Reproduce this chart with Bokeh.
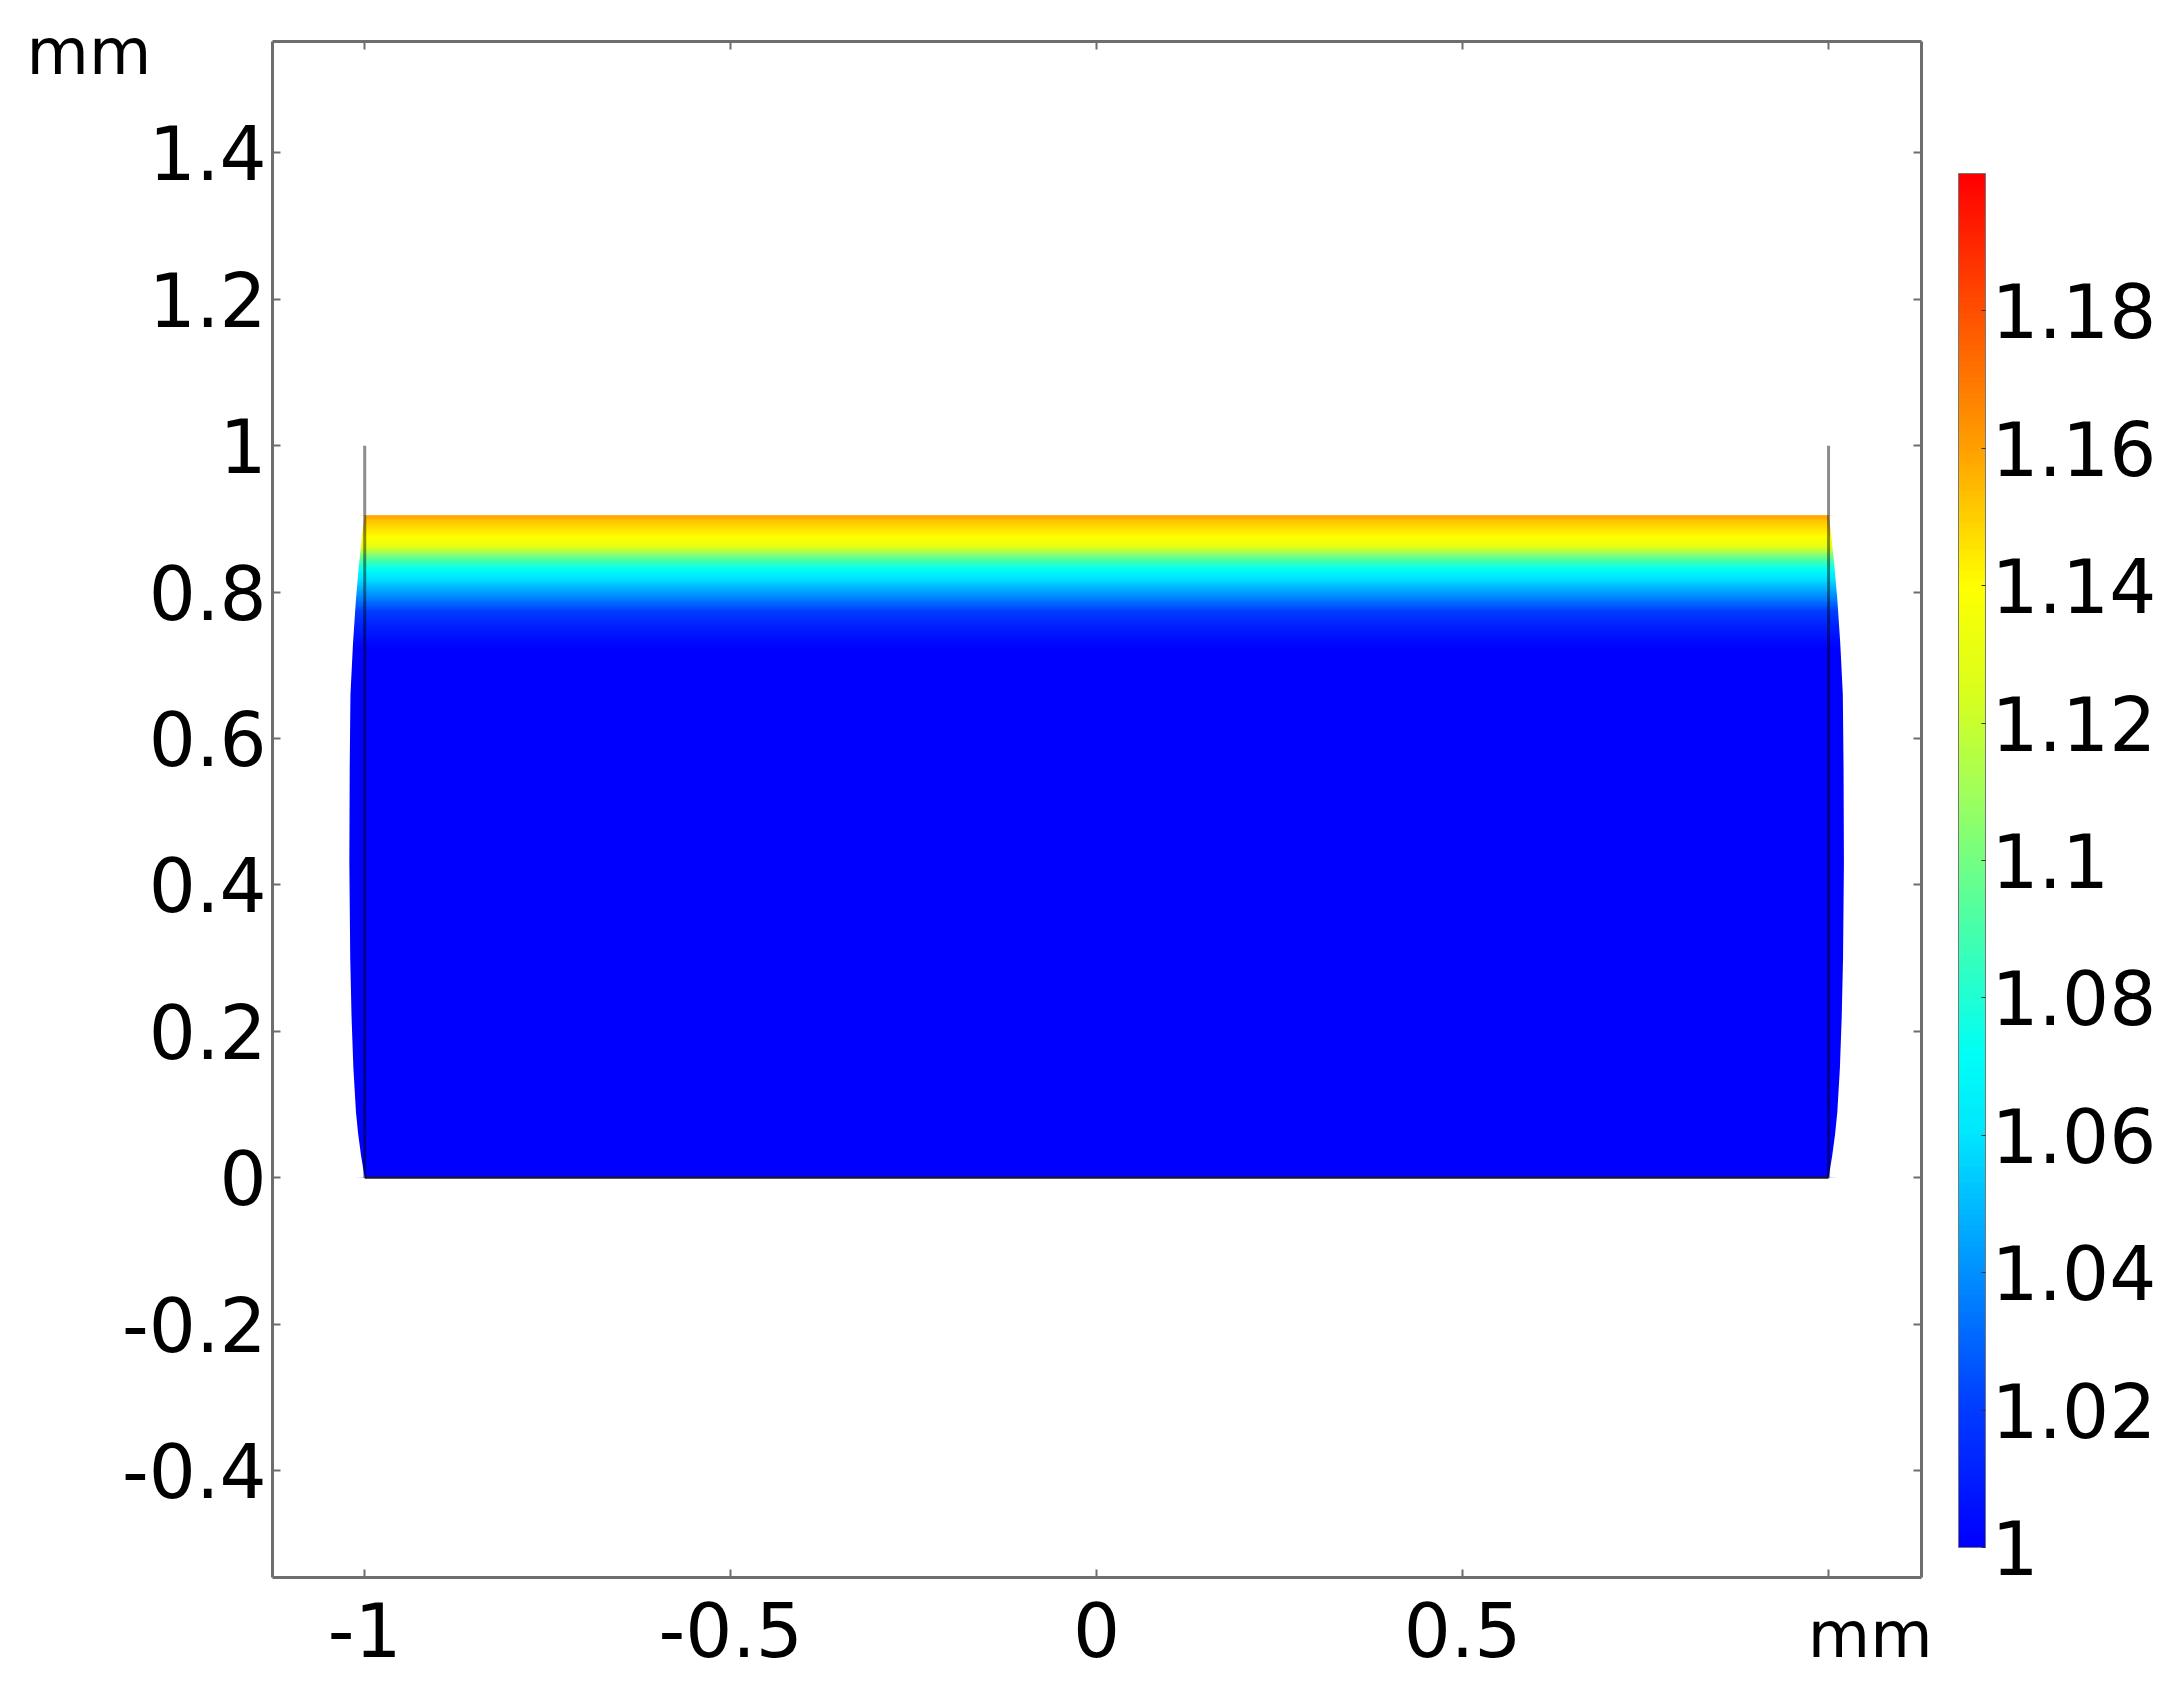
import numpy as np
from bokeh.plotting import figure
from bokeh.models import (LinearAxis, FixedTicker, LinearColorMapper, ColorBar,
                          Label, Range1d)
from bokeh.embed import file_html
from bokeh.resources import INLINE

# ---------------- data ----------------
x_ticks = [-1.0, -0.5, 0.0, 0.5, 1.0]
x_tick_labels = ["-1", "-0.5", "0", "0.5", ""]
y_ticks = [-0.4, -0.2, 0.0, 0.2, 0.4, 0.6, 0.8, 1.0, 1.2, 1.4]
y_tick_labels = ["-0.4", "-0.2", "0", "0.2", "0.4", "0.6", "0.8", "1", "1.2", "1.4"]
cbar_ticks = [1.0, 1.02, 1.04, 1.06, 1.08, 1.1, 1.12, 1.14, 1.16, 1.18]
cbar_labels = ["1", "1.02", "1.04", "1.06", "1.08", "1.1", "1.12", "1.14", "1.16", "1.18"]
c_low, c_high = 1.0, 1.2
x_box = (-1.126, 1.127)     # visible axis box (mm)
y_box = (-0.546, 1.552)

# concentration profile (height in mm -> value), read along the domain
conc_y = [0.0, 0.72, 0.75, 0.772, 0.795, 0.824, 0.836, 0.848, 0.862, 0.874, 0.893, 0.905]
conc_val = [1.0, 1.0, 1.01, 1.02, 1.04, 1.065, 1.08, 1.10, 1.13, 1.14, 1.15, 1.16]

# deformed side boundary: outward bulge of each side wall (mm) vs height
edge_y = [0.0, 0.03, 0.06, 0.09, 0.15, 0.22, 0.30, 0.43, 0.56, 0.66, 0.73, 0.79, 0.83, 0.87, 0.905]
edge_dx = [0.0, 0.005, 0.009, 0.012, 0.0155, 0.018, 0.0198, 0.021, 0.0205, 0.0195, 0.016,
           0.012, 0.0085, 0.0045, 0.0]

domain_x = [-1.0, 1.0]
domain_top = 0.905
wall_x = [-1.0, 1.0]
wall_top = 1.0

# ---------------- colormap (COMSOL-like rainbow) ----------------
stops = [(0.0, (0, 0, 255)), (0.1, (0, 60, 255)), (0.2, (0, 145, 255)),
         (0.3, (0, 230, 255)), (0.36, (0, 255, 245)), (0.45, (70, 255, 170)),
         (0.55, (160, 255, 90)), (0.62, (215, 255, 30)), (0.7, (255, 255, 0)),
         (0.8, (255, 160, 0)), (0.9, (255, 80, 0)), (1.0, (255, 0, 0))]
sf = [s[0] for s in stops]
palette = []
for t in np.linspace(0, 1, 256):
    rgb = [int(round(np.interp(t, sf, [s[1][k] for s in stops]))) for k in range(3)]
    palette.append("#%02x%02x%02x" % tuple(rgb))
mapper = LinearColorMapper(palette=palette, low=c_low, high=c_high)

# ---------------- canvas geometry ----------------
W, H = 2168, 1680
BOX_L, BOX_T, BOX_W, BOX_H = 272, 41, 1649, 1536
ppx = BOX_W / (x_box[1] - x_box[0])
ppy = BOX_H / (y_box[1] - y_box[0])
x_start = x_box[0] - BOX_L / ppx
y_end = y_box[1] + BOX_T / ppy

FONT = "DejaVu Sans"
p = figure(frame_width=W, frame_height=H,
           x_range=Range1d(x_start, x_start + W / ppx),
           y_range=Range1d(y_end - H / ppy, y_end),
           output_backend="svg", toolbar_location=None,
           x_axis_location=None, y_axis_location=None,
           min_border=0, min_border_left=0, min_border_right=0,
           min_border_top=0, min_border_bottom=0,
           outline_line_color=None, background_fill_color="white",
           border_fill_color="white")
p.xgrid.visible = False
p.ygrid.visible = False

AX = "#6e6e6e"


def make_axis(ticks, labels, show, loc, bounds):
    ax = LinearAxis(ticker=FixedTicker(ticks=ticks),
                    major_label_overrides=dict(zip(ticks, labels if show else [""] * len(ticks))),
                    fixed_location=loc, bounds=bounds,
                    axis_line_color=AX, axis_line_width=3,
                    major_tick_line_color=AX, major_tick_line_width=2,
                    major_tick_in=8, major_tick_out=0,
                    minor_tick_line_color=None,
                    major_label_text_font=FONT,
                    major_label_text_font_size="74px",
                    major_label_text_color="black" if show else None)
    return ax


xb = make_axis(x_ticks, x_tick_labels, True, y_box[0], x_box)
xb.major_label_standoff = 24
yl = make_axis(y_ticks, y_tick_labels, True, x_box[0], y_box)
yl.major_label_standoff = 6
xt = make_axis(x_ticks, x_tick_labels, False, y_box[1], x_box)
yr = make_axis(y_ticks, y_tick_labels, False, x_box[1], y_box)
p.add_layout(xb, "below")
p.add_layout(yl, "left")
p.add_layout(xt, "above")
p.add_layout(yr, "right")

# concentration field (colour depends on height), drawn as an image
ny = 800
yc = (np.arange(ny) + 0.5) / ny * domain_top
col = np.interp(yc, conc_y, conc_val)
img = np.repeat(col[:, None], 2, axis=1)
x_img0 = -1.03
p.image(image=[img], x=x_img0, y=0, dw=-2 * x_img0, dh=domain_top, color_mapper=mapper)

# mask outside the bulging side boundaries
ey = list(edge_y)
lx = [x_img0 - 0.01] + [domain_x[0] - d for d in edge_dx] + [x_img0 - 0.01]
rx = [-x_img0 + 0.01] + [domain_x[1] + d for d in edge_dx] + [-x_img0 + 0.01]
py = [ey[0] - 0.001] + ey + [ey[-1] + 0.001]
p.patches(xs=[lx, rx], ys=[py, py], fill_color="white", line_color=None)

# bottom boundary
p.line(x=domain_x, y=[0, 0], line_color="#1a1a1a", line_width=2)

# side walls
p.segment(x0=wall_x, y0=[0, 0], x1=wall_x, y1=[wall_top, wall_top],
          line_color="black", line_alpha=0.45, line_width=3)

# unit labels
p.add_layout(Label(x=-1.462, y=1.538, text="mm", text_font=FONT, text_font_size="64px",
                   text_baseline="alphabetic", text_color="black"))
p.add_layout(Label(x=1.142, y=-0.624, text="mm", text_font=FONT, text_font_size="64px",
                   text_align="right", text_baseline="alphabetic", text_color="black"))

# colour bar
cb = ColorBar(color_mapper=mapper, ticker=FixedTicker(ticks=cbar_ticks),
              major_label_overrides=dict(zip(cbar_ticks, cbar_labels)),
              location=(1958, H - 1547), orientation="vertical", width=27, height=1374,
              padding=0, margin=0, label_standoff=6,
              major_label_text_font=FONT, major_label_text_font_size="74px",
              major_label_text_color="black",
              major_tick_in=4, major_tick_out=0, major_tick_line_color="#333333",
              minor_tick_line_color=None,
              bar_line_color="#777777", border_line_color=None,
              background_fill_color=None)
p.add_layout(cb, "center")

open("out.html", "w").write(file_html(p, INLINE))
